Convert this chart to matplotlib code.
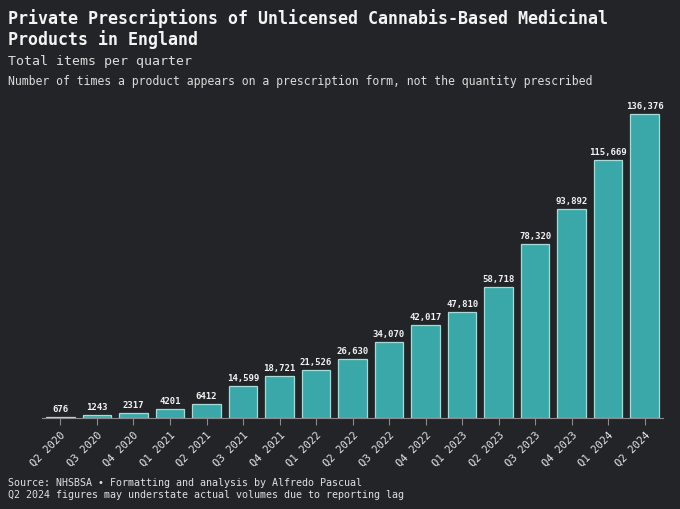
import matplotlib
matplotlib.use("Agg")
import matplotlib.pyplot as plt

# quarterly items (NHSBSA)
quarters = ["Q2 2020", "Q3 2020", "Q4 2020", "Q1 2021", "Q2 2021", "Q3 2021",
            "Q4 2021", "Q1 2022", "Q2 2022", "Q3 2022", "Q4 2022", "Q1 2023",
            "Q2 2023", "Q3 2023", "Q4 2023", "Q1 2024", "Q2 2024"]
items = [676, 1243, 2317, 4201, 6412, 14599, 18721, 21526, 26630, 34070,
         42017, 47810, 58718, 78320, 93892, 115669, 136376]

bg = "#232427"
plt.rcParams['font.family'] = ['DejaVu Sans Mono']

fig = plt.figure(figsize=(6.8, 5.1), dpi=100, facecolor=bg)
ax = fig.add_axes([0.062, 0.178, 0.913, 0.634])
ax.set_facecolor(bg)

x = list(range(len(items)))
bars = ax.bar(x, items, width=0.78, color="#3aa8a8", edgecolor="#a6dcd8", linewidth=0.9)

for xi, v in zip(x, items):
    lab = f"{v:,}" if v >= 10000 else str(v)
    ax.text(xi, v + 1800, lab, ha="center", va="bottom", fontsize=6.5,
            fontweight="bold", color="#f2f2f2")

ax.set_xlim(-0.5, len(items) - 0.5)
ax.set_ylim(0, 145000)
ax.set_yticks([])
ax.set_xticks(x)
ax.set_xticklabels(quarters, rotation=45, ha="right", rotation_mode="anchor",
                   fontsize=7.6, color="#e6e6e6")
ax.tick_params(axis="x", length=5, color="#8a8a8a", pad=3)
for s in ["top", "right", "left"]:
    ax.spines[s].set_visible(False)
ax.spines["bottom"].set_color("#8a8a8a")

fig.text(0.012, 0.982, "Private Prescriptions of Unlicensed Cannabis-Based Medicinal\nProducts in England",
         fontsize=12, fontweight="bold", color="#f4f4f4", va="top", linespacing=1.15)
fig.text(0.012, 0.893, "Total items per quarter", fontsize=9.5, color="#dcdcdc", va="top")
fig.text(0.012, 0.853, "Number of times a product appears on a prescription form, not the quantity prescribed",
         fontsize=8.3, color="#dcdcdc", va="top")
fig.text(0.012, 0.062, "Source: NHSBSA \u2022 Formatting and analysis by Alfredo Pascual\nQ2 2024 figures may understate actual volumes due to reporting lag",
         fontsize=7.2, color="#e0e0e0", va="top", linespacing=1.2)

fig.savefig("out.png", dpi=100, facecolor=bg)
